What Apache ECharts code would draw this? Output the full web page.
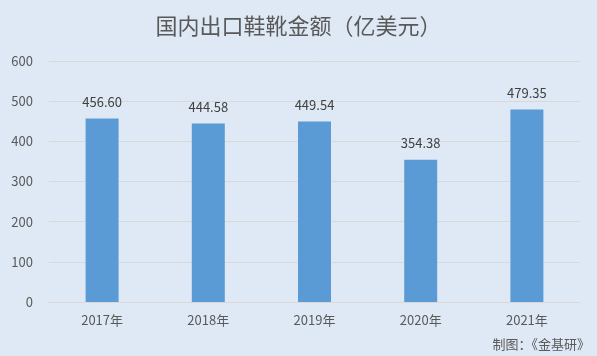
<!DOCTYPE html>
<html><head><meta charset="utf-8">
<script src="https://cdn.jsdelivr.net/npm/echarts@6/dist/echarts.min.js"></script>
<style>html,body{margin:0;padding:0;background:#dee9f5;}#c{width:597px;height:356px;}</style>
</head><body><div id="c"></div>
<script>
const categories = ['2017年','2018年','2019年','2020年','2021年'];
const values = [456.60, 444.58, 449.54, 354.38, 479.35];
const yTicks = [0, 100, 200, 300, 400, 500, 600];
const titleText = '国内出口鞋靴金额（亿美元）';
const sourceText = '制图：《金基研》';

const chart = echarts.init(document.getElementById('c'));
chart.setOption({
  backgroundColor: '#dee9f5',
  animation: false,
  title: {
    text: titleText, left: 'center', top: 10,
    textStyle: {fontFamily: 'Noto Sans CJK SC', fontSize: 22, fontWeight: 'normal', color: '#595959'}
  },
  graphic: [{
    type: 'text', right: 7, bottom: 5,
    style: {text: sourceText, fill: '#595959', font: '13px "Noto Sans CJK SC"'}
  }],
  grid: {left: 49, right: 17, top: 61, bottom: 54},
  xAxis: {
    type: 'category', data: categories,
    axisLine: {lineStyle: {color: '#d9d9d9'}},
    axisTick: {show: false},
    axisLabel: {color: '#595959', fontSize: 13, margin: 12, fontFamily: 'Noto Sans CJK SC'}
  },
  yAxis: {
    type: 'value', min: yTicks[0], max: yTicks[yTicks.length-1], interval: 100,
    axisLine: {show: false}, axisTick: {show: false},
    splitLine: {lineStyle: {color: '#d9d9d9'}},
    axisLabel: {color: '#595959', fontSize: 13, margin: 16, fontFamily: 'Noto Sans CJK SC'}
  },
  series: [{
    type: 'bar', data: values, barWidth: 33,
    itemStyle: {color: '#5b9bd5'},
    label: {show: true, position: 'top', distance: 10, color: '#404040', fontSize: 13,
      fontFamily: 'Noto Sans CJK SC',
      formatter: p => p.value.toFixed(2)}
  }]
});
</script></body></html>
